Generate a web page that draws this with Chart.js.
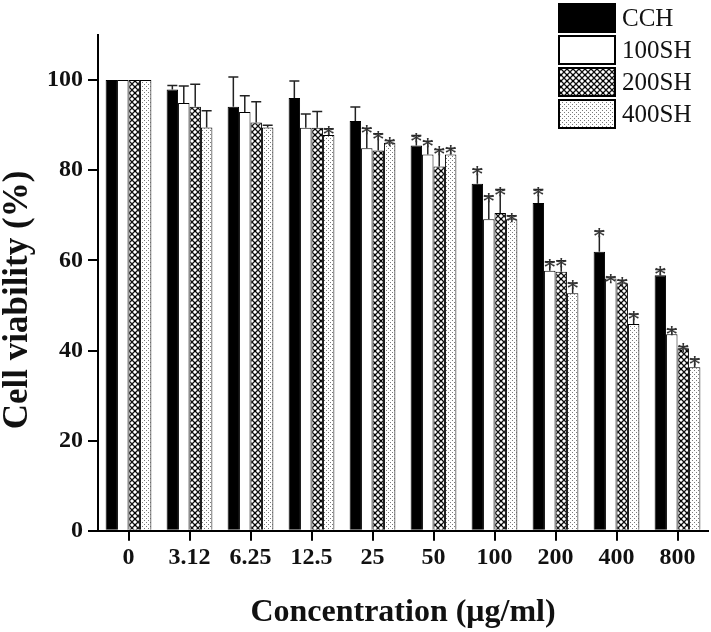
<!DOCTYPE html>
<html>
<head>
<meta charset="utf-8">
<script src="https://cdn.jsdelivr.net/npm/chart.js@4"></script>
<style>
  body { margin:0; background:#fff; }
  #wrap { width:711px; height:632px; }
</style>
</head>
<body>
<div id="wrap"><canvas id="chart" width="711" height="632"></canvas></div>
<script>
const concentrations = ['0','3.12','6.25','12.5','25','50','100','200','400','800'];

const cch    = [100, 97.9, 94.1, 96.0, 90.9, 85.5, 77.0, 72.7, 61.9, 56.7];
const cchErr = [0,   0.9,  6.6,  3.8,  3.1,  2.2,  3.2,  3.0,  4.6,  1.3];
const sh100    = [100, 94.9, 92.9, 89.4, 84.9, 83.5, 69.1, 57.7, 56.0, 43.6];
const sh100Err = [0,   3.8,  3.6,  3.1,  4.4,  2.9,  5.2,  2.0,  0.3,  1.1];
const sh200    = [100, 94.1, 90.6, 89.4, 84.4, 80.8, 70.5, 57.5, 54.9, 40.5];
const sh200Err = [0,   5.0,  4.6,  3.6,  3.7,  3.8,  5.2,  2.4,  0.7,  0.4];
const sh400    = [100, 89.5, 89.5, 87.8, 86.1, 83.5, 69.1, 52.7, 45.9, 36.3];
const sh400Err = [0,   3.7,  0.5,  1.4,  0.5,  1.4,  0.8,  2.3,  2.2,  1.8];

// significance marks (*)
const cchSig   = [0,0,0,0,0,1,1,1,1,1];
const sh100Sig = [0,0,0,0,1,1,1,1,1,1];
const sh200Sig = [0,0,0,0,1,1,1,1,1,1];
const sh400Sig = [0,0,0,1,1,1,1,1,1,1];

const yTicks = [0, 20, 40, 60, 80, 100];

const FONT = "'Liberation Serif', 'Times New Roman', serif";

function crossPattern(){
  const c = document.createElement('canvas'); c.width = 6; c.height = 6;
  const g = c.getContext('2d');
  g.fillStyle = '#fff'; g.fillRect(0,0,6,6);
  g.strokeStyle = '#111'; g.lineWidth = 1.3;
  g.beginPath();
  g.moveTo(-1,-1); g.lineTo(7,7);
  g.moveTo(7,-1); g.lineTo(-1,7);
  g.stroke();
  g.fillStyle = '#000'; g.fillRect(2,2,2,2);
  return g.createPattern(c, 'repeat');
}
function dotPattern(){
  const c = document.createElement('canvas'); c.width = 4; c.height = 4;
  const g = c.getContext('2d');
  g.fillStyle = '#fff'; g.fillRect(0,0,4,4);
  g.fillStyle = '#7a7a7a';
  g.fillRect(0,0,1,1); g.fillRect(2,2,1,1);
  return g.createPattern(c, 'repeat');
}

const errs = [cchErr, sh100Err, sh200Err, sh400Err];
const sigs = [cchSig, sh100Sig, sh200Sig, sh400Sig];

const errorBars = {
  id: 'errorBars',
  afterDatasetsDraw(chart){
    const ctx = chart.ctx, y = chart.scales.y;
    ctx.save();
    chart.data.datasets.forEach((ds, i)=>{
      const meta = chart.getDatasetMeta(i);
      meta.data.forEach((bar, j)=>{
        const e = errs[i][j];
        let top = y.getPixelForValue(ds.data[j] + e);
        if(e > 0){
          ctx.strokeStyle = '#222'; ctx.lineWidth = 1.5;
          ctx.beginPath();
          ctx.moveTo(bar.x, bar.y); ctx.lineTo(bar.x, top);
          ctx.moveTo(bar.x - 5, top); ctx.lineTo(bar.x + 5, top);
          ctx.stroke();
        }
        if(sigs[i][j]){
          ctx.fillStyle = '#333';
          ctx.font = '25px ' + FONT;
          ctx.textAlign = 'center'; ctx.textBaseline = 'alphabetic';
          ctx.fillText('*', bar.x, top + 14);
        }
      });
    });
    ctx.restore();
  }
};

const boxLegend = {
  id: 'boxLegend',
  afterDraw(chart){
    const ctx = chart.ctx;
    ctx.save();
    chart.data.datasets.forEach((ds, i)=>{
      const bx = 559, by = 4 + i*32, bw = 56, bh = 28;
      ctx.fillStyle = ds.backgroundColor;
      ctx.fillRect(bx, by, bw, bh);
      ctx.strokeStyle = '#000'; ctx.lineWidth = 2;
      ctx.strokeRect(bx, by, bw, bh);
      ctx.fillStyle = '#111';
      ctx.font = '25px ' + FONT;
      ctx.textAlign = 'left'; ctx.textBaseline = 'middle';
      ctx.fillText(ds.label, bx + 63, by + bh/2 + 1);
    });
    ctx.restore();
  }
};

// y title drawn a bit below the axis middle, as in the figure
const yTitle = {
  id: 'yTitle',
  afterDraw(chart){
    const ctx = chart.ctx;
    ctx.save();
    ctx.translate(27, 300);
    ctx.rotate(-Math.PI/2);
    ctx.fillStyle = '#111';
    ctx.font = 'bold 35px ' + FONT;
    ctx.textAlign = 'center'; ctx.textBaseline = 'alphabetic';
    ctx.fillText('Cell viability (%)', 0, 0);
    ctx.restore();
  }
};

const mk = (label, data, bg)=>({
  label, data, backgroundColor: bg, borderColor: '#000', borderWidth: 1,
  categoryPercentage: 0.75, barPercentage: 1.0
});

new Chart(document.getElementById('chart'), {
  type: 'bar',
  data: {
    labels: concentrations,
    datasets: [
      mk('CCH', cch, '#000'),
      mk('100SH', sh100, '#fff'),
      mk('200SH', sh200, crossPattern()),
      mk('400SH', sh400, dotPattern())
    ]
  },
  options: {
    responsive: false,
    animation: false,
    layout: { padding: { top: 35, right: 3, left: 42, bottom: 0 } },
    plugins: { legend: { display: false }, tooltip: { enabled: false } },
    scales: {
      x: {
        grid: { display: true, offset: false, drawOnChartArea: false, drawTicks: true, tickLength: 10, color: '#000', lineWidth: 2 },
        border: { display: true, color: '#000', width: 2 },
        ticks: { color: '#111', font: { family: FONT, size: 24, weight: 'bold' }, padding: 3, maxRotation: 0 },
        title: { display: true, text: 'Concentration (μg/ml)', color: '#111', font: { family: FONT, size: 32, weight: 'bold' }, padding: { top: 18, bottom: 0 } }
      },
      y: {
        min: 0, max: 110,
        afterBuildTicks(axis){ axis.ticks = yTicks.map(v=>({ value: v })); },
        grid: { display: true, drawOnChartArea: false, drawTicks: true, tickLength: 10, color: '#000', lineWidth: 2 },
        border: { display: true, color: '#000', width: 2 },
        ticks: { color: '#111', font: { family: FONT, size: 24, weight: 'bold' }, padding: 5 },
        title: { display: false }
      }
    }
  },
  plugins: [errorBars, boxLegend, yTitle]
});
</script>
</body>
</html>
